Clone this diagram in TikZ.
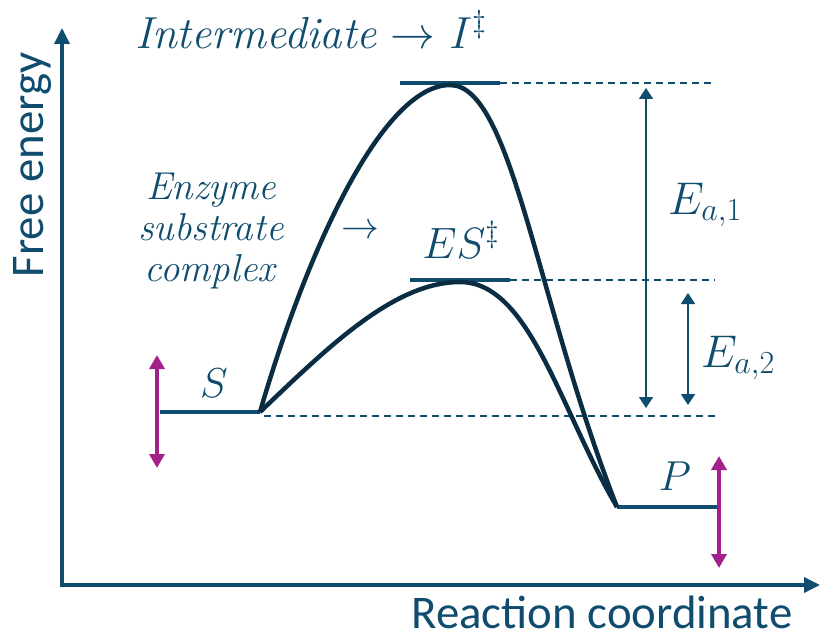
\RequirePackage{fix-cm}
\documentclass[tikz,border=0pt]{standalone}
\usepackage{fontspec}
\setsansfont{Carlito}
\usetikzlibrary{positioning,arrows.meta,calc}
\definecolor{axisblue}{HTML}{0F4C6E}
\definecolor{curvenavy}{HTML}{0B2D44}
\definecolor{shiftpink}{HTML}{A3218A}

\tikzset{
  axisline/.style={line width=3.5bp, draw=axisblue, -{Triangle[length=16bp,width=15bp]}},
  level/.style={line width=3.5bp, draw=axisblue},
  energycurve/.style={line width=4.5bp, draw=curvenavy, line join=round},
  guide/.style={dash pattern=on 7bp off 5bp, line width=1.3bp, draw=axisblue},
  barrier/.style={line width=1.8bp, draw=axisblue, {Triangle[length=11bp,width=14bp]}-{Triangle[length=11bp,width=14bp]}},
  shiftarrow/.style={line width=3.5bp, draw=shiftpink, {Triangle[length=14bp,width=15bp]}-{Triangle[length=14bp,width=15bp]}},
  mathlabel/.style={text=axisblue, inner sep=0pt, font=\fontsize{40}{48}\selectfont},
  axislabel/.style={text=axisblue, inner sep=0pt, font=\sffamily\fontsize{47}{54}\selectfont},
}

\begin{document}
\begin{tikzpicture}[x=1bp, y=-1bp]
  \useasboundingbox (0,0) rectangle (820,642);

  % axes
  \coordinate (origin) at (62,585);
  \coordinate (ytop) at (62,28);
  \coordinate (xend) at (820,585);
  \draw[axisline] (origin) -- (ytop);
  \draw[axisline] ([xshift=-1.75bp]origin) -- (xend);
  \node[axislabel, rotate=90] (ylabel) at (33,165) {Free energy};
  \node[axislabel] (xlabel) at (602,612) {Reaction coordinate};

  % energy levels
  \coordinate (sL) at (160,412);
  \coordinate (sR) at (260,412);
  \coordinate (pL) at (617,507);
  \coordinate (pR) at (717,507);
  \coordinate (iL) at (400,83);
  \coordinate (iR) at (500,83);
  \coordinate (iTop) at (450,85);
  \coordinate (esL) at (410,280);
  \coordinate (esR) at (510,280);
  \coordinate (esTop) at (460,282);
  \draw[level] (sL) -- (sR);
  \draw[level] (pL) -- (pR);
  \draw[level] (iL) -- (iR);
  \draw[level] (esL) -- (esR);

  % guide lines
  \coordinate (iD) at (715,83);
  \coordinate (esD) at (715,280);
  \coordinate (sA) at (264,416);
  \coordinate (sD) at (715,416);
  \draw[guide] (iR) -- (iD);
  \draw[guide] (esR) -- (esD);
  \draw[guide] (sA) -- (sD);

  % reaction paths
  \draw[energycurve] (sR) .. controls (310,240) and (385,85) .. (iTop)
    .. controls (512,85) and (536,300) .. (pL);
  \draw[energycurve] (sR) .. controls (330,345) and (395,282) .. (esTop)
    .. controls (530,282) and (560,410) .. (pL);

  % activation energies
  \coordinate (ea1Top) at (646,88);
  \coordinate (ea1Bot) at (646,408);
  \coordinate (ea2Top) at (688,293);
  \coordinate (ea2Bot) at (688,405);
  \draw[barrier] (ea1Top) -- (ea1Bot);
  \draw[barrier] (ea2Top) -- (ea2Bot);
  \node[mathlabel, font=\fontsize{46}{50}\selectfont] (ea1) at (705,205) {$E_{a,1}$};
  \node[mathlabel, font=\fontsize{46}{50}\selectfont] (ea2) at (738,358) {$E_{a,2}$};

  % level shifts
  \coordinate (sUp) at (157,355);
  \coordinate (sDown) at (157,468);
  \coordinate (pUp) at (719,456);
  \coordinate (pDown) at (719,568);
  \draw[shiftarrow] (sUp) -- (sDown);
  \draw[shiftarrow] (pUp) -- (pDown);

  % labels
  \node[mathlabel, font=\fontsize{42}{48}\selectfont] (slabel) at (214,383) {$S$};
  \node[mathlabel, font=\fontsize{42}{48}\selectfont] (plabel) at (675,476) {$P$};
  \node[mathlabel, font=\fontsize{45}{50}\selectfont] (ilabel) at (311,30) {\textit{Intermediate} $\rightarrow$ $I^{\ddagger}$};
  \node[mathlabel, font=\fontsize{44}{48}\selectfont] (eslabel) at (461,240) {$ES^{\ddagger}$};
  \node[mathlabel, font=\fontsize{39}{41}\selectfont, align=center] (complex) at (211,231)
    {\textit{Enzyme}\\\textit{substrate}\\\textit{complex}};
  \node[mathlabel, font=\fontsize{38}{41}\selectfont] (carrow) at (360,232) {$\rightarrow$};
\end{tikzpicture}
\end{document}
